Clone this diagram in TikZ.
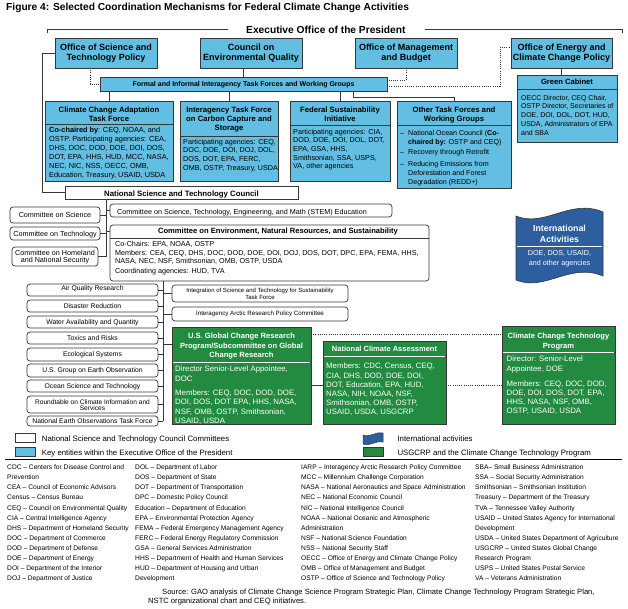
\documentclass[tikz,border=0pt]{standalone}
\usepackage{fontspec}
\setmainfont{Liberation Sans}
\usetikzlibrary{calc}
\definecolor{lblue}{RGB}{98,190,226}
\definecolor{dgreen}{RGB}{34,139,64}
\definecolor{intl}{RGB}{44,94,160}
\definecolor{bord}{RGB}{55,55,55}
\newcommand\myfs[1]{\fontsize{#1}{#1}\selectfont}
\newcommand\mkbox[6]{\pgfmathsetmacro\bxw{#5-#3}\pgfmathsetmacro\bxh{#6-#4}%
  \node[#1, minimum width=\bxw pt, minimum height=\bxh pt, anchor=north west] (#2) at (#3,#4) {};}
\newcommand\tlines[6]{\foreach \tlx [count=\tix] in {#6}{\node[#1] (#2\tix) at (#3,{#4+(\tix-1)*(#5)}) {\tlx};}}
\tikzset{
 bx/.style={draw=bord, line width=0.8pt, inner sep=0pt, outer sep=0pt},
 bluebox/.style={bx, fill=lblue},
 greenbox/.style={bx, fill=dgreen},
 roundbox/.style={bx, fill=white, rounded corners=3pt, line width=0.7pt},
 whitebox/.style={bx, fill=white},
 conn/.style={draw=bord, line width=0.8pt},
 dotconn/.style={conn, line width=0.9pt, dash pattern=on 0.9pt off 1.3pt},
 txl/.style={inner sep=0pt, anchor=base west, text=black},
 txc/.style={inner sep=0pt, anchor=base, text=black},
 wtxl/.style={txl, text=white},
 wtxc/.style={txc, text=white},
 topf/.style={txc, font=\myfs{9}\bfseries},
 tfh/.style={txc, font=\myfs{7.7}\bfseries},
 glos/.style={txl, font=\myfs{6.65}},
}
\begin{document}
\begin{tikzpicture}[x=1pt,y=-1pt]
\useasboundingbox (0,0) rectangle (628,608);
\fill[white] (0,0) rectangle (628,608);

% title
\node[txl, font=\myfs{10.2}\bfseries] (title) at (6,10.8) {Figure 4: Selected Coordination Mechanisms for Federal Climate Change Activities};
\node[txl, font=\myfs{10.2}\bfseries] (exec) at (246,33.6) {Executive Office of the President};
\draw[conn] (47,33) -- (47,29.5) -- (228,29.5);
\draw[conn] (425,29.5) -- (622,29.5) -- (622,33);

% top row
\mkbox{bluebox}{ostp}{55}{38}{157}{68}
\mkbox{bluebox}{ceq}{200}{38}{302}{68}
\mkbox{bluebox}{omb}{355}{38}{457}{68}
\mkbox{bluebox}{oecc}{511}{38}{612}{68}
\tlines{topf}{ostpt}{106}{50}{10.5}{Office of Science and,Technology Policy}
\tlines{topf}{ceqt}{251}{50}{10.5}{Council on,Environmental Quality}
\tlines{topf}{ombt}{406}{50}{10.5}{Office of Management,and Budget}
\tlines{topf}{oecct}{561.5}{50}{10.5}{Office of Energy and,Climate Change Policy}

\mkbox{bluebox}{formal}{100}{77}{387}{91}
\node[txc, font=\myfs{7}\bfseries] (formalt) at (243.5,86.6) {Formal and Informal Interagency Task Forces and Working Groups};

% green cabinet
\mkbox{bluebox}{gch}{517}{75}{617}{89}
\mkbox{bluebox}{gcb}{517}{89}{617}{142}
\node[tfh, font=\myfs{7.6}\bfseries] (gcht) at (567,84.7) {Green Cabinet};
\tlines{txl, font=\myfs{7}}{gcbt}{521}{100}{8.8}{{OECC Director, CEQ Chair,},{OSTP Director, Secretaries of},{DOE, DOI, DOL, DOT, HUD,},{USDA, Administrators of EPA},{and SBA}}

% task forces
\mkbox{bluebox}{adh}{45}{101}{173}{124}
\mkbox{bluebox}{adb}{45}{124}{173}{181}
\tlines{tfh}{adht}{109}{112.8}{9}{Climate Change Adaptation,Task Force}
\tlines{txl, font=\myfs{7.35}}{adbt}{49}{132.7}{8.9}{{\textbf{Co-chaired by}: CEQ, NOAA, and},{OSTP. Participating agencies: CEA,},{DHS, DOC, DOD, DOE, DOI, DOS,},{DOT, EPA, HHS, HUD, MCC, NASA,},{NEC, NIC, NSS, OECC, OMB,},{Education, Treasury, USAID, USDA}}

\mkbox{bluebox}{cch}{180}{101}{278}{136}
\mkbox{bluebox}{ccb}{180}{136}{278}{181}
\tlines{tfh}{ccht}{229}{112.8}{9}{Interagency Task Force,on Carbon Capture and,Storage}
\tlines{txl, font=\myfs{7.2}}{ccbt}{183}{144.3}{8.6}{{Participating agencies: CEQ,},{DOC, DOE, DOI, DOJ, DOL,},{DOS, DOT, EPA, FERC,},{OMB, OSTP, Treasury, USDA}}

\mkbox{bluebox}{fsh}{290}{101}{390}{125}
\mkbox{bluebox}{fsb}{290}{125}{390}{181}
\tlines{tfh}{fsht}{340}{112.8}{9}{Federal Sustainability,Initiative}
\tlines{txl, font=\myfs{7.2}}{fsbt}{293}{134.3}{8.6}{{Participating agencies: CIA,},{DOD, DOE, DOI, DOL, DOT,},{EPA, GSA, HHS,},{Smithsonian, SSA, USPS,},{VA, other agencies}}

\mkbox{bluebox}{oth}{397}{101}{511}{125}
\mkbox{bluebox}{otb}{397}{125}{511}{188}
\tlines{tfh}{otht}{454}{112.8}{9}{Other Task Forces and,Working Groups}
\node[txl, font=\myfs{7.1}] (ot1) at (408,135.9) {National Ocean Council (\textbf{Co-}};
\node[txl, font=\myfs{7.1}] (ot2) at (408,144.3) {\textbf{chaired by:} OSTP and CEQ)};
\node[txl, font=\myfs{7.1}] (ot3) at (408,154.9) {Recovery through Retrofit};
\node[txl, font=\myfs{7.1}] (ot4) at (408,166.6) {Reducing Emissions from};
\node[txl, font=\myfs{7.1}] (ot5) at (408,175.3) {Deforestation and Forest};
\node[txl, font=\myfs{7.1}] (ot6) at (408,184.3) {Degradation (REDD+)};
\node[txl, font=\myfs{7.1}] (od1) at (400,135.9) {–};
\node[txl, font=\myfs{7.1}] (od2) at (400,154.9) {–};
\node[txl, font=\myfs{7.1}] (od3) at (400,166.6) {–};

% NSTC
\mkbox{whitebox}{nstc}{65}{186}{298}{199}
\node[txc, font=\myfs{7.8}\bfseries] (nstct) at (181.5,196) {National Science and Technology Council};

% top connectors
\draw[conn] (ostp.west) -- ++(-13,0) |- (nstc.west);
\draw[dotconn] ($(ostp.south west)+(35,0)$) |- (formal.west);
\coordinate (c1) at ($(ceq.south)+(-8,0)$);
\draw[conn] (c1) -- (c1 |- formal.north);
\draw[dotconn] (omb.south) |- ($(formal.east)+(0,-4)$);
\coordinate (c2) at ($(formal.east)+(0,2)$);
\draw[dotconn] (c2) -- ($(c2 -| oecc.west)+(-11,0)$) |- ($(oecc.west)+(0,-6)$);
\draw[conn] (oecc.south) -- (oecc.south |- gch.north);
\draw[conn] (adh.north |- formal.south) -- (adh.north);
\draw[conn] (cch.north |- formal.south) -- (cch.north);
\draw[conn] (fsh.north |- formal.south) -- (fsh.north);
\coordinate (c3) at ($(formal.south west)+(253,0)$);
\draw[conn] (c3) |- ($(oth.north)+(0,-4)$) -- (oth.north);

% committees
\mkbox{roundbox}{csci}{10}{207}{100}{223}
\mkbox{roundbox}{ctech}{10}{227}{100}{240}
\mkbox{roundbox}{chom}{12}{247}{98}{266}
\node[txc, font=\myfs{7.2}] (cscit) at (55,217.6) {Committee on Science};
\node[txc, font=\myfs{7.2}] (ctecht) at (55,236.3) {Committee on Technology};
\tlines{txc, font=\myfs{7.2}}{chomt}{55}{255.3}{7.6}{Committee on Homeland,and National Security}

\mkbox{roundbox}{stem}{110}{204}{392}{217}
\node[txl, font=\myfs{7.2}] (stemt) at (117,214.6) {Committee on Science, Technology, Engineering, and Math (STEM) Education};

\mkbox{roundbox}{cenrs}{110}{225}{429}{281}
\draw[conn] ($(cenrs.north west)+(0,13.3)$) -- ($(cenrs.north east)+(0,13.3)$);
\node[txc, font=\myfs{7.6}\bfseries] (cenrsh) at (278,233.4) {Committee on Environment, Natural Resources, and Sustainability};
\node[txl, font=\myfs{7.2}] (cen1) at (115,246.9) {Co-Chairs: EPA, NOAA, OSTP};
\node[txl, font=\myfs{7.2}] (cen2) at (115,255.9) {Members: CEA, CEQ, DHS, DOC, DOD, DOE, DOI, DOJ, DOS, DOT, DPC, EPA, FEMA, HHS,};
\node[txl, font=\myfs{7.2}] (cen3) at (115,263.3) {NASA, NEC, NSF, Smithsonian, OMB, OSTP, USDA};
\node[txl, font=\myfs{7.2}] (cen4) at (115,273.6) {Coordinating agencies: HUD, TVA};

\coordinate (nv) at ($(nstc.south west)+(41,0)$);
\draw[conn] (nv) -- (nv |- chom.east);
\draw[conn] (csci.east) -- (csci.east -| nv);
\draw[conn] (ctech.east) -- (ctech.east -| nv);
\draw[conn] (chom.east) -- (chom.east -| nv);
\draw[conn] (stem.west -| nv) -- (stem.west);
\draw[conn] (nv |- cenrsh.west) -- (cenrs.west |- cenrsh.west);

% subcommittees
\mkbox{roundbox}{sc1}{27}{284}{158}{296}
\mkbox{roundbox}{sc2}{27}{300}{158}{312}
\mkbox{roundbox}{sc3}{27}{316}{158}{328}
\mkbox{roundbox}{sc4}{27}{332}{158}{344}
\mkbox{roundbox}{sc5}{27}{348}{158}{361}
\mkbox{roundbox}{sc6}{27}{364}{158}{377}
\mkbox{roundbox}{sc7}{27}{380}{158}{392}
\mkbox{roundbox}{sc8}{27}{396}{158}{413}
\mkbox{roundbox}{sc9}{27}{416}{158}{426}
\node[txc, font=\myfs{6.8}] (sct1) at (92.5,290.4) {Air Quality Research};
\node[txc, font=\myfs{6.8}] (sct2) at (92.5,308.4) {Disaster Reduction};
\node[txc, font=\myfs{6.8}] (sct3) at (92.5,324.4) {Water Availability and Quantity};
\node[txc, font=\myfs{6.8}] (sct4) at (92.5,340.4) {Toxics and Risks};
\node[txc, font=\myfs{6.8}] (sct5) at (92.5,356.9) {Ecological Systems};
\node[txc, font=\myfs{6.8}] (sct6) at (92.5,372.9) {U.S. Group on Earth Observation};
\node[txc, font=\myfs{6.8}] (sct7) at (92.5,388.4) {Ocean Science and Technology};
\node[txc, font=\myfs{6.6}] (sct8a) at (92.5,404) {Roundtable on Climate Information and};
\node[txc, font=\myfs{6.6}] (sct8b) at (92.5,410.8) {Services};
\node[txc, font=\myfs{6.8}] (sct9) at (92.5,423.4) {National Earth Observations Task Force};

\mkbox{roundbox}{integ}{172}{285}{348}{302}
\node[txc, font=\myfs{6}] (integ1) at (260,292.9) {Integration of Science and Technology for Sustainability};
\node[txc, font=\myfs{6}] (integ2) at (260,299.9) {Task Force};
\mkbox{roundbox}{arctic}{172}{307}{348}{321}
\node[txc, font=\myfs{6.2}] (arctict) at (260,315.6) {Interagency Arctic Research Policy Committee};

% green boxes
\mkbox{greenbox}{ush}{172}{327}{311}{362}
\mkbox{greenbox}{usb}{172}{362}{311}{424}
\draw[white, line width=0.8pt] ($(usb.north west)+(1,0)$) -- ($(usb.north east)+(-1,0)$);
\node[wtxc, font=\myfs{7.6}\bfseries] (usht1) at (241.5,338.4) {U.S. Global Change Research};
\node[wtxc, font=\myfs{7.6}\bfseries] (usht2) at (241.5,348.1) {Program/Subcommittee on Global};
\node[wtxc, font=\myfs{7.6}\bfseries] (usht3) at (241.5,357.8) {Change Research};
\node[wtxl, font=\myfs{7.8}] (usb1) at (175,371.7) {Director Senior-Level Appointee,};
\node[wtxl, font=\myfs{7.8}] (usb2) at (175,381) {DOC};
\node[wtxl, font=\myfs{7.8}] (usb3) at (175,395) {Members: CEQ, DOC, DOD, DOE,};
\node[wtxl, font=\myfs{7.8}] (usb4) at (175,404.8) {DOI, DOS, DOT EPA, HHS, NASA,};
\node[wtxl, font=\myfs{7.8}] (usb5) at (175,414.3) {NSF, OMB, OSTP, Smithsonian,};
\node[wtxl, font=\myfs{7.8}] (usb6) at (175,423.5) {USAID, USDA};

\mkbox{greenbox}{ncah}{323}{341}{446}{356}
\mkbox{greenbox}{ncab}{323}{356}{446}{424}
\draw[white, line width=0.8pt] ($(ncab.north west)+(1,0)$) -- ($(ncab.north east)+(-1,0)$);
\node[wtxc, font=\myfs{7.5}\bfseries] (ncaht) at (384.5,351.2) {National Climate Assessment};
\tlines{wtxl, font=\myfs{7.8}}{ncabt}{326}{368.9}{9.2}{{Members: CDC, Census, CEQ,},{CIA, DHS, DOD, DOE, DOI,},{DOT, Education, EPA, HUD,},{NASA, NIH, NOAA, NSF,},{Smithsonian, OMB, OSTP,},{USAID, USDA, USGCRP}}

\mkbox{greenbox}{ctph}{502}{326}{615}{352}
\mkbox{greenbox}{ctpb}{502}{352}{615}{424}
\draw[white, line width=0.8pt] ($(ctpb.north west)+(1,0)$) -- ($(ctpb.north east)+(-1,0)$);
\tlines{wtxc, font=\myfs{7.6}\bfseries}{ctpht}{558.5}{338.4}{10}{Climate Change Technology,Program}
\node[wtxl, font=\myfs{7.8}] (ctp1) at (506.5,361) {Director: Senior-Level};
\node[wtxl, font=\myfs{7.8}] (ctp2) at (506.5,371.7) {Appointee, DOE};
\node[wtxl, font=\myfs{7.8}] (ctp3) at (506.5,386) {Members: CEQ, DOC, DOD,};
\node[wtxl, font=\myfs{7.8}] (ctp4) at (506.5,395) {DOE, DOI, DOS, DOT, EPA,};
\node[wtxl, font=\myfs{7.8}] (ctp5) at (506.5,404.4) {HHS, NASA, NSF, OMB,};
\node[wtxl, font=\myfs{7.8}] (ctp6) at (506.5,413.7) {OSTP, USAID, USDA};

% subcommittee connectors
\coordinate (sv) at ($(cenrs.south west)+(53,0)$);
\draw[conn] (sv) -- (sv |- sc9.east);
\foreach \i in {1,...,9} {\draw[conn] (sc\i.east) -- (sc\i.east -| sv);}
\draw[conn] (sv |- integ.west) -- (integ.west);
\draw[conn] (sv |- arctic.west) -- (arctic.west);
\draw[conn] (sv |- ush.west) -- (ush.west);

\coordinate (d1) at ($(ush.north east)+(0,7.3)$);
\draw[dotconn] (d1) -- (d1 -| ctph.west);
\coordinate (d2) at ($(ncab.east)+(0,-5)$);
\draw[dotconn] (d2) -- (d2 -| ctpb.west);
\draw[conn] (usb.east |- d2) -- (ncab.west |- d2);

% international activities flag
\path[fill=intl, draw=bord, line width=0.6pt] (516,216) .. controls (545,228) and (570,198) .. (603,212) -- (603,276) .. controls (570,262) and (545,292) .. (516,280) -- cycle;
\draw[white, line width=0.8pt] (517,246) -- (602,246);
\node[wtxc, font=\myfs{8.8}\bfseries] (ia1) at (559.5,231.3) {International};
\node[wtxc, font=\myfs{8.8}\bfseries] (ia2) at (559.5,242.3) {Activities};
\node[wtxc, font=\myfs{7.2}] (ia3) at (559.5,255.9) {DOE, DOS, USAID,};
\node[wtxc, font=\myfs{7.2}] (ia4) at (559.5,265.3) {and other agencies};

% legend
\mkbox{whitebox}{lg1}{15}{433}{35}{442.5}
\mkbox{bluebox}{lg2}{15}{447}{35}{456}
\path[fill=intl, draw=bord, line width=0.5pt] (363,435) .. controls (370,438) and (376,431) .. (383,433) -- (383,442) .. controls (376,440) and (370,447) .. (363,444) -- cycle;
\mkbox{greenbox}{lg4}{363}{447}{383}{456}
\node[txl, font=\myfs{7.8}] (lg1t) at (41.7,441) {National Science and Technology Council Committees};
\node[txl, font=\myfs{7.8}] (lg2t) at (41.7,455) {Key entities within the Executive Office of the President};
\node[txl, font=\myfs{7.8}] (lg3t) at (397.3,441) {International activities};
\node[txl, font=\myfs{7.8}] (lg4t) at (397.3,455) {USGCRP and the Climate Change Technology Program};
\draw[line width=1.3pt] (5,459.5) -- (622,459.5);

% glossary
\tlines{glos}{ga}{7}{469.6}{10.1}{{CDC – Centers for Disease Control and},{Prevention},{CEA – Council of Economic Advisors},{Census – Census Bureau},{CEQ – Council on Environmental Quality},{CIA – Central Intelligence Agency},{DHS – Department of Homeland Security},{DOC – Department of Commerce},{DOD – Department of Defense},{DOE – Department of Energy},{DOI – Department of the Interior},{DOJ – Department of Justice}}
\tlines{glos}{gb}{135}{469.6}{10.1}{{DOL – Department of Labor},{DOS – Department of State},{DOT – Department of Transportation},{DPC – Domestic Policy Council},{Education – Department of Education},{EPA – Environmental Protection Agency},{FEMA – Federal Emergency Management Agency},{FERC – Federal Energy Regulatory Commission},{GSA – General Services Administration},{HHS – Department of Health and Human Services},{HUD – Department of Housing and Urban},{Development}}
\tlines{glos}{gc}{301}{469.6}{10.1}{{IARP – Interagency Arctic Research Policy Committee},{MCC – Millennium Challenge Corporation},{NASA – National Aeronautics and Space Administration},{NEC – National Economic Council},{NIC – National Intelligence Council},{NOAA – National Oceanic and Atmospheric},{Administration},{NSF – National Science Foundation},{NSS – National Security Staff},{OECC – Office of Energy and Climate Change Policy},{OMB – Office of Management and Budget},{OSTP – Office of Science and Technology Policy}}
\tlines{glos}{gd}{475}{469.6}{10.1}{{SBA– Small Business Administration},{SSA – Social Security Administration},{Smithsonian – Smithsonian Institution},{Treasury – Department of the Treasury},{TVA – Tennessee Valley Authority},{USAID – United States Agency for International},{Development},{USDA – United States Department of Agriculture},{USGCRP – United States Global Change},{Research Program},{USPS – United States Postal Service},{VA – Veterans Administration}}

\node[txl, font=\myfs{7.6}] (src1) at (162,594) {Source: GAO analysis of Climate Change Science Program Strategic Plan, Climate Change Technology Program Strategic Plan,};
\node[txl, font=\myfs{7.6}] (src2) at (148,603) {NSTC organizational chart and CEQ initiatives.};
\end{tikzpicture}
\end{document}
